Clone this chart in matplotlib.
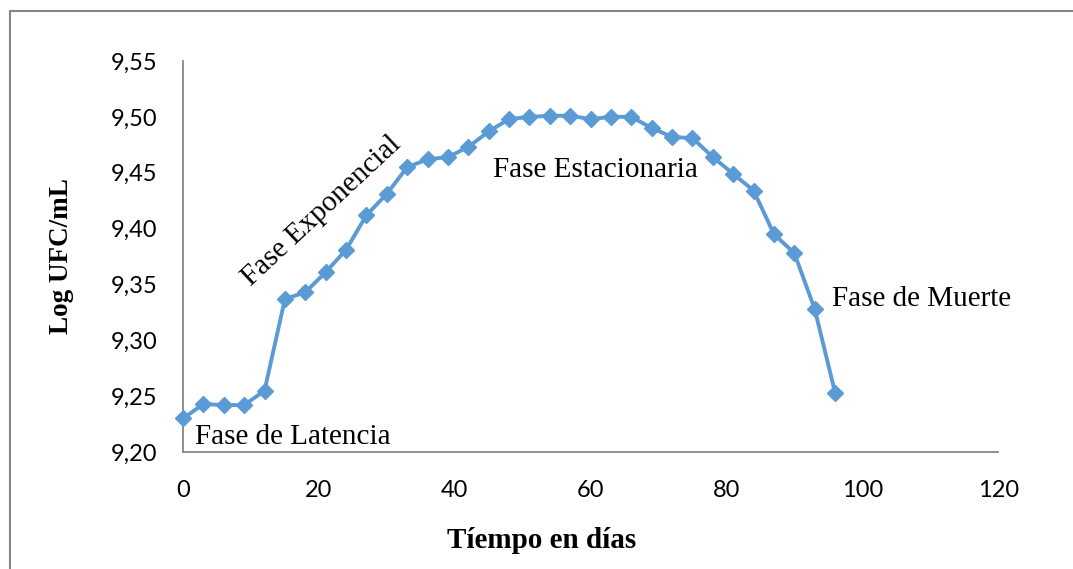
import matplotlib.pyplot as plt
from matplotlib.lines import Line2D
from matplotlib.ticker import FuncFormatter

# Growth curve data: days vs log CFU/mL
dias = [0, 3, 6, 9, 12, 15, 18, 21, 24, 27, 30, 33, 36, 39, 42, 45, 48,
        51, 54, 57, 60, 63, 66, 69, 72, 75, 78, 81, 84, 87, 90, 93, 96]
log_ufc = [9.230, 9.243, 9.242, 9.242, 9.255, 9.337, 9.343, 9.361, 9.381,
           9.412, 9.431, 9.455, 9.462, 9.464, 9.473, 9.487, 9.498,
           9.500, 9.501, 9.501, 9.498, 9.500, 9.500, 9.490, 9.482, 9.481,
           9.464, 9.449, 9.434, 9.395, 9.378, 9.328, 9.253]
y_ticks = [9.20, 9.25, 9.30, 9.35, 9.40, 9.45, 9.50, 9.55]
x_ticks = [0, 20, 40, 60, 80, 100, 120]

blue = '#5B9BD5'
gray = '#868686'
serif = 'Liberation Serif'
sans = 'Lato'

fig = plt.figure(figsize=(10.73, 5.69), dpi=100)
ax = fig.add_axes([0.1706, 0.2056, 0.7596, 0.6872])

ax.plot(dias, log_ufc, color=blue, lw=2.8, marker='D', ms=8,
        mec=blue, mfc=blue, clip_on=False, zorder=3)

ax.set_xlim(0, 120)
ax.set_ylim(9.20, 9.55)
ax.set_xticks(x_ticks)
ax.set_yticks(y_ticks)
ax.yaxis.set_major_formatter(FuncFormatter(lambda v, p: f'{v:.2f}'.replace('.', ',')))

for s in ['top', 'right']:
    ax.spines[s].set_visible(False)
for s in ['left', 'bottom']:
    ax.spines[s].set_color(gray)
    ax.spines[s].set_linewidth(1.3)
ax.tick_params(length=0)
ax.tick_params(axis='y', pad=18.5)
ax.tick_params(axis='x', pad=20)
for lab in ax.get_xticklabels() + ax.get_yticklabels():
    lab.set_fontfamily(sans)
    lab.set_fontsize(17)

ax.set_ylabel('Log UFC/mL', fontfamily=serif, fontweight='bold',
              fontsize=19.5, labelpad=26)
# x title sits centred on the whole chart area
fig.text(542 / 1073, 1 - 541 / 569, 'Tíempo en días', fontfamily=serif,
         fontweight='bold', fontsize=21, ha='center', va='center')

# phase labels
ax.text(1.8, 9.213, 'Fase de Latencia', fontfamily=serif, fontsize=21,
        va='center', ha='left')
ax.text(20.4, 9.416, 'Fase Exponencial', fontfamily=serif, fontsize=21,
        va='center', ha='center', rotation=43, rotation_mode='anchor')
ax.text(60.7, 9.452, 'Fase Estacionaria', fontfamily=serif, fontsize=21,
        va='center', ha='center')
ax.text(95.6, 9.337, 'Fase de Muerte', fontfamily=serif, fontsize=21,
        va='center', ha='left')

# outer chart border
fig.add_artist(Line2D([9.5 / 1073, 9.5 / 1073, 1.0], [0.0, 1 - 11 / 569, 1 - 11 / 569],
                      transform=fig.transFigure, color=gray, lw=1.5))

fig.savefig('out.png', dpi=100)
